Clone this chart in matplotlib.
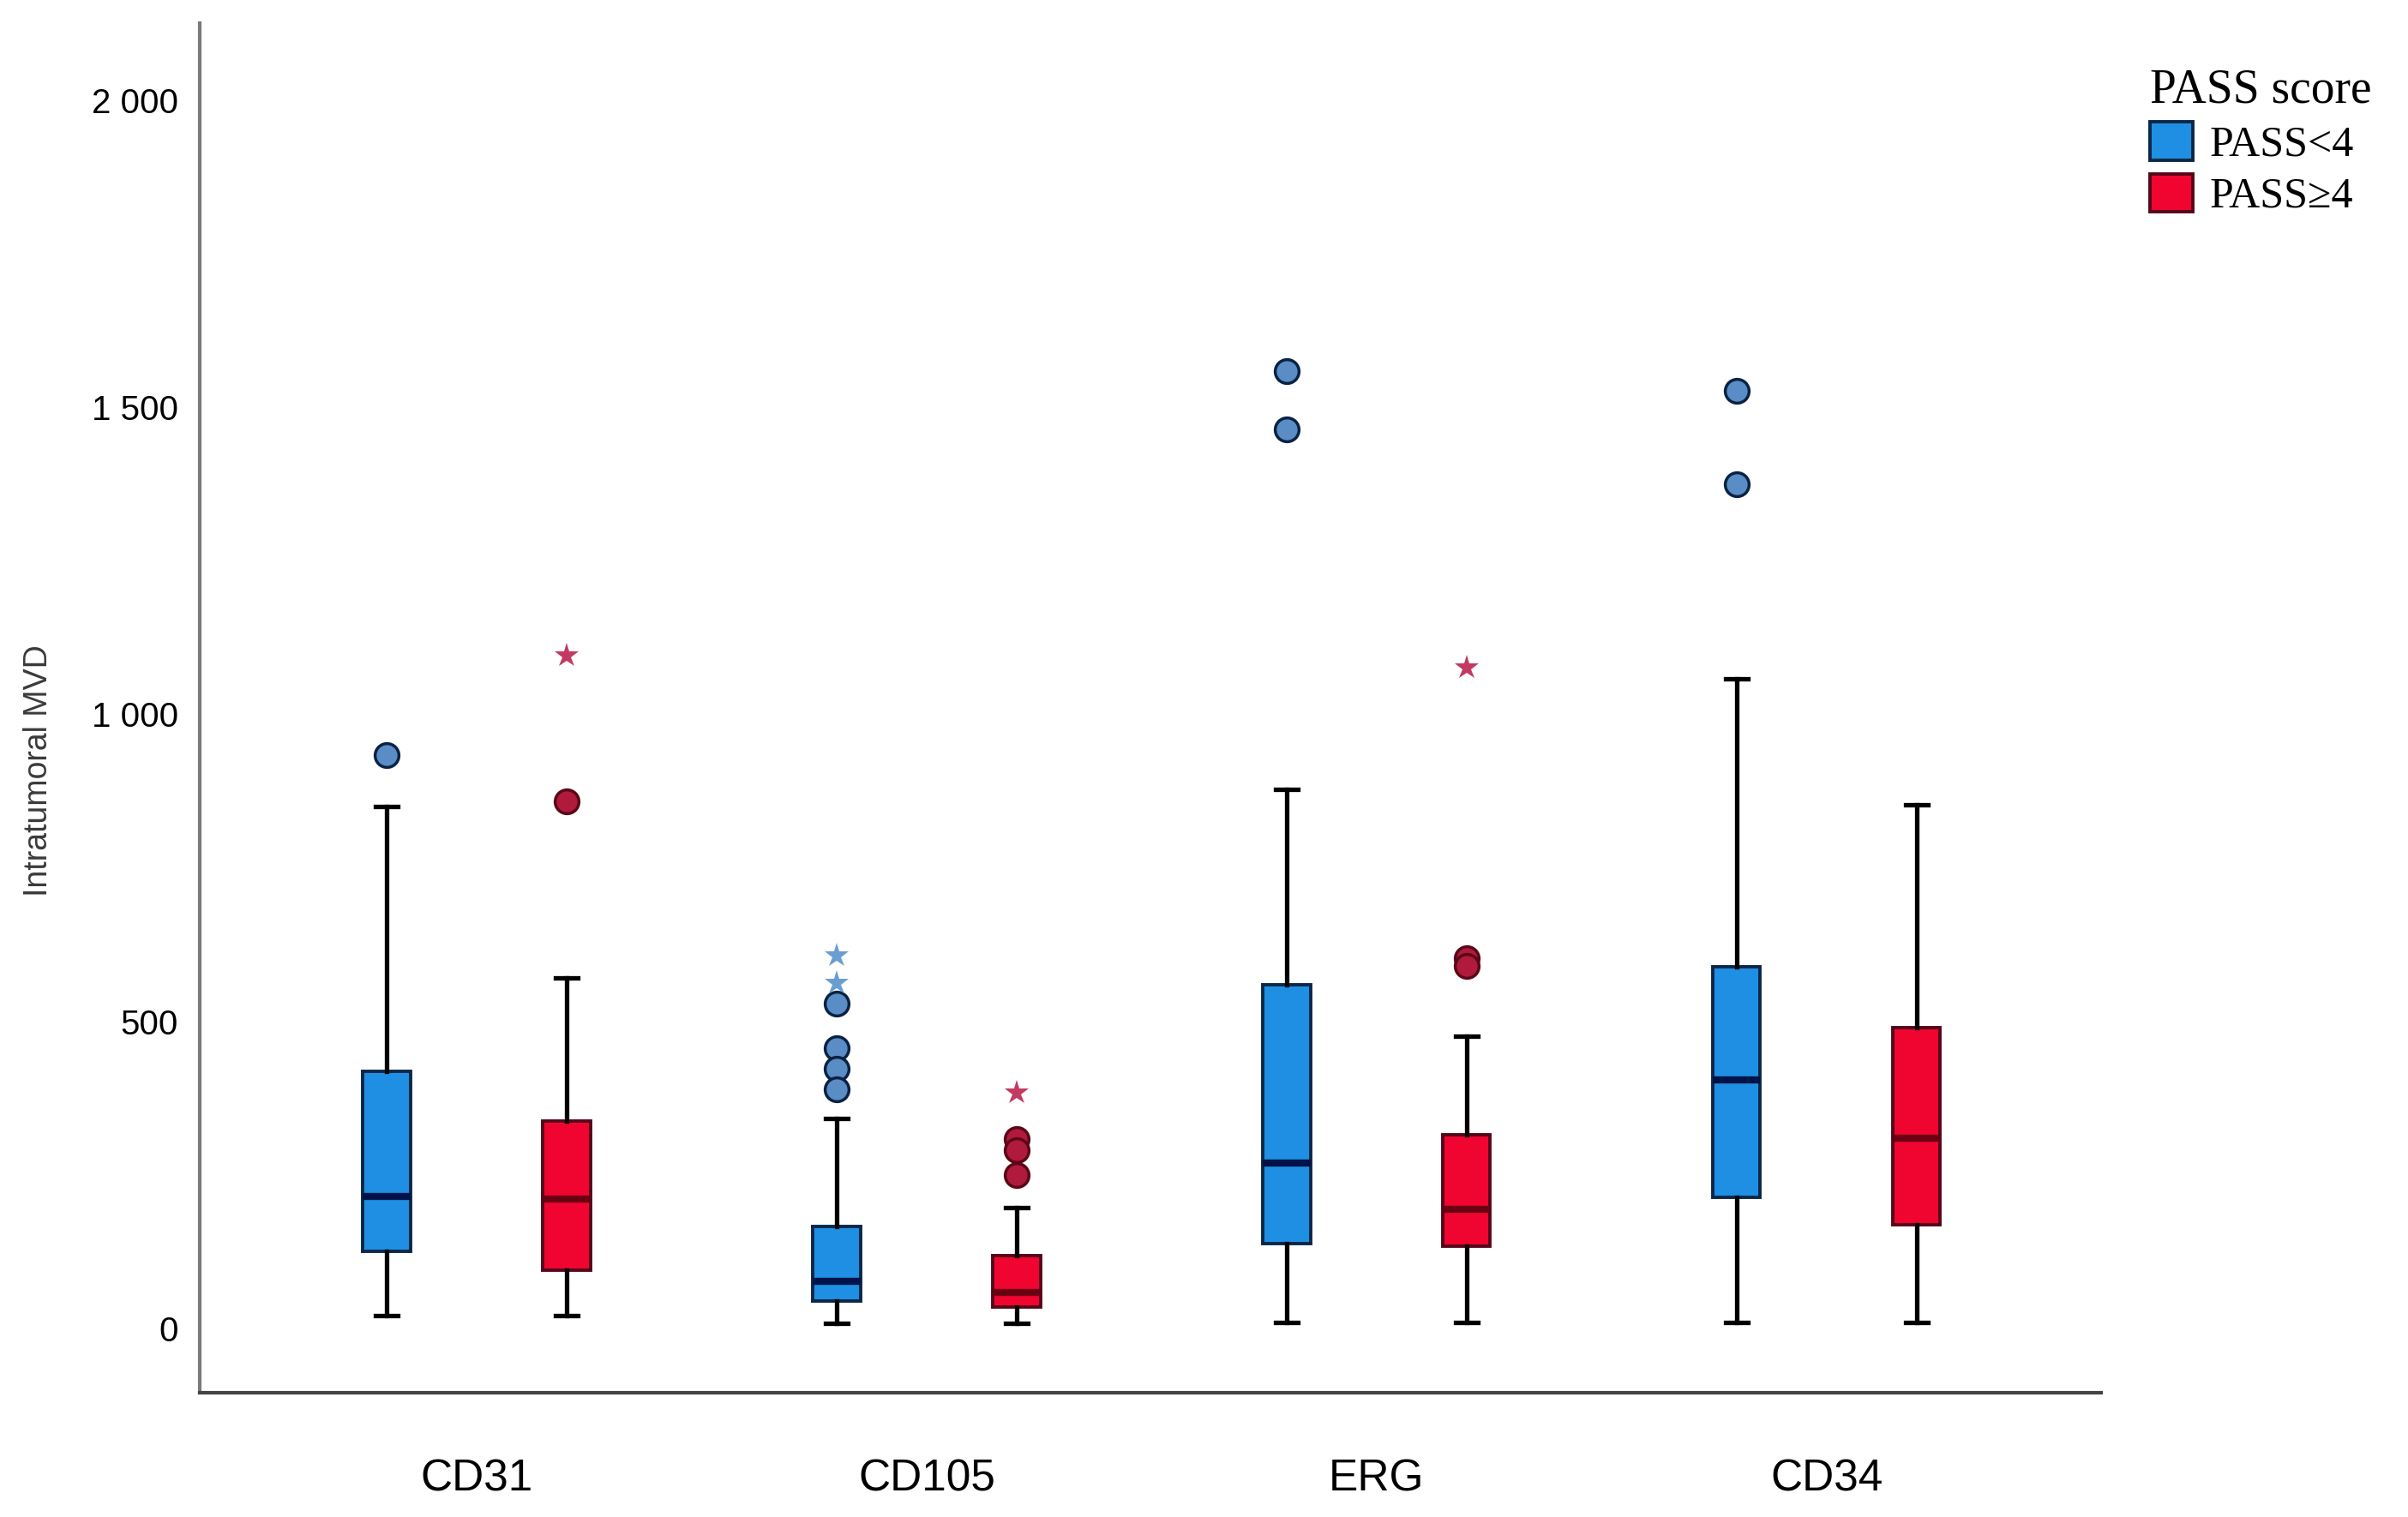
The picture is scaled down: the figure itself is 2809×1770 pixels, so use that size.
import matplotlib
matplotlib.use("Agg")
import matplotlib.pyplot as plt
from matplotlib.patches import Patch
from matplotlib import font_manager

# ---- data ----
categories = ['CD31', 'CD105', 'ERG', 'CD34']
groups = ['PASS<4', 'PASS\u22654']

# PASS<4
lo_whislo = [20, 8, 10, 10]
lo_q1 = [125, 45, 138, 213]
lo_med = [215, 76, 269, 404]
lo_q3 = [418, 166, 560, 589]
lo_whishi = [850, 342, 878, 1058]
lo_circles = [[933], [528, 456, 422, 389], [1558, 1464], [1526, 1375]]
lo_stars = [[], [607, 562], [], []]

# PASS>=4
hi_whislo = [20, 8, 10, 10]
hi_q1 = [95, 35, 134, 168]
hi_med = [210, 58, 194, 309]
hi_q3 = [338, 118, 315, 489]
hi_whishi = [570, 196, 476, 852]
hi_circles = [[858], [308, 290, 250], [603, 590], []]
hi_stars = [[1095], [384], [1075], []]

yticks = [0, 500, 1000, 1500, 2000]
ytick_labels = ['0', '500', '1\u00a0000', '1\u00a0500', '2\u00a0000']

# ---- styles ----
names = {f.name for f in font_manager.fontManager.ttflist}
narrow = 'Liberation Sans Narrow' if 'Liberation Sans Narrow' in names else 'Liberation Sans'
xlab_size = 42 if narrow == 'Liberation Sans Narrow' else 37
ylab_size = 32 if narrow == 'Liberation Sans Narrow' else 27

box_fill = ['#1f8fe3', '#ef0530']
box_edge = ['#0b2748', '#55071a']
med_col = ['#001348', '#6a0012']
circ_fill = ['#5a8cc6', '#b01a3c']
circ_edge = ['#0a2242', '#5a0818']
star_col = ['#6a9ed2', '#c23a62']

offset = 0.2
width = 0.105


def make_stats(whislo, q1, med, q3, whishi, fliers):
    stats = []
    for i in range(len(categories)):
        stats.append({'whislo': whislo[i], 'q1': q1[i], 'med': med[i],
                      'q3': q3[i], 'whishi': whishi[i], 'fliers': fliers[i]})
    return stats


fig = plt.figure(figsize=(28.09, 17.70), dpi=100)
ax = fig.add_axes([0.083, 0.0819, 0.7896, 0.9028])

all_stats = [make_stats(lo_whislo, lo_q1, lo_med, lo_q3, lo_whishi, lo_circles),
             make_stats(hi_whislo, hi_q1, hi_med, hi_q3, hi_whishi, hi_circles)]
all_stars = [lo_stars, hi_stars]

for g in range(2):
    pos = [i + (g * 2 - 1) * offset for i in range(len(categories))]
    ax.bxp(all_stats[g], positions=pos, widths=width, patch_artist=True,
           showfliers=True,
           boxprops=dict(facecolor=box_fill[g], edgecolor=box_edge[g], linewidth=2.8),
           medianprops=dict(color=med_col[g], linewidth=6, solid_capstyle='butt'),
           whiskerprops=dict(color='black', linewidth=3.8),
           capprops=dict(color='black', linewidth=3.8),
           capwidths=0.05,
           flierprops=dict(marker='o', markersize=20, markerfacecolor=circ_fill[g],
                           markeredgecolor=circ_edge[g], markeredgewidth=2.5,
                           linestyle='none'))
    for i, vals in enumerate(all_stars[g]):
        if vals:
            ax.plot([pos[i]] * len(vals), vals, linestyle='none', marker='*',
                    markersize=21, color=star_col[g], markeredgewidth=0)

ax.set_xlim(-0.615, 3.61)
ax.set_ylim(-105, 2125)

ax.set_yticks(yticks)
ax.set_yticklabels(ytick_labels, fontsize=29, family='Liberation Sans')
ax.set_xticks(range(len(categories)))
ax.set_xticklabels(categories, fontsize=xlab_size, family=narrow)
ax.tick_params(axis='both', length=0)
ax.tick_params(axis='y', pad=18)
ax.tick_params(axis='x', pad=55)

ax.set_ylabel('Intratumoral MVD', fontsize=ylab_size, family=narrow, color='#3a3a3a')
ax.yaxis.set_label_coords(-0.0766, 0.454)

for s in ['top', 'right']:
    ax.spines[s].set_visible(False)
ax.spines['left'].set_color('#7a7a7a')
ax.spines['left'].set_linewidth(3)
ax.spines['bottom'].set_color('#444444')
ax.spines['bottom'].set_linewidth(3)

handles = [Patch(facecolor=box_fill[g], edgecolor=box_edge[g], linewidth=2.8, label=groups[g])
           for g in range(2)]
leg = fig.legend(handles=handles, title='PASS score', loc='upper left',
                 bbox_to_anchor=(2508 / 2809, 1 - 80 / 1770), frameon=False,
                 prop={'family': 'Liberation Serif', 'size': 36},
                 title_fontproperties={'family': 'Liberation Serif', 'size': 40},
                 handlelength=1.0, handleheight=1.0, handletextpad=0.4,
                 labelspacing=0.2, borderpad=0, borderaxespad=0, alignment='left')

fig.savefig('out.png', dpi=100)
